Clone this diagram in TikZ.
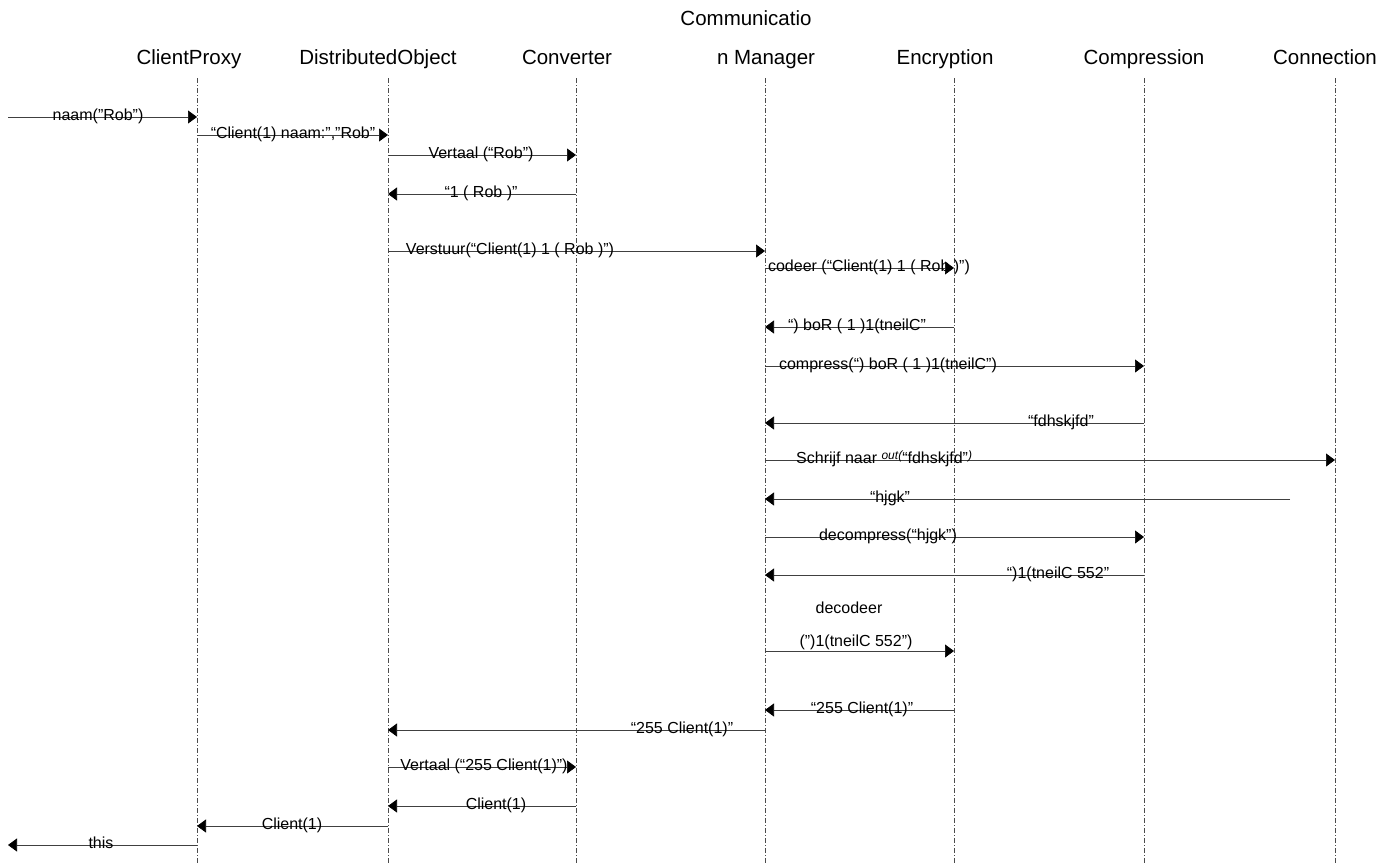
\documentclass[tikz,border=0pt]{standalone}
\usepackage{fontspec}
\setmainfont{Liberation Sans}
\usetikzlibrary{arrows.meta}
\begin{document}
\begin{tikzpicture}[x=1pt,y=-1pt,
  head/.style={anchor=base,inner sep=0pt,font=\fontsize{20.5}{24}\selectfont},
  lbl/.style={anchor=base,inner sep=0pt,font=\fontsize{16}{19}\selectfont},
  life/.style={black!70,line width=0.5pt,dash pattern=on 5pt off 2pt on 1pt off 2pt},
  msg/.style={black!75,line width=0.7pt,-{Triangle[length=9pt,width=13pt,black]}}]
\useasboundingbox (0,0) rectangle (1395,863);
\fill[white] (0,0) rectangle (1395,863);
% headers
\node[head] (hcp) at (189,64) {ClientProxy};
\node[head] (hdo) at (378,64) {DistributedObject};
\node[head] (hcv) at (567,64) {Converter};
\node[head] (hcm1) at (746,25) {Communicatio};
\node[head] (hcm) at (766,64) {n Manager};
\node[head] (hen) at (945,64) {Encryption};
\node[head] (hco) at (1144,64) {Compression};
\node[head] (hcn) at (1325,64) {Connection};
% lifelines
\coordinate (cp) at (197,78); \coordinate (cpB) at (197,863);
\coordinate (do) at (388,78); \coordinate (doB) at (388,863);
\coordinate (cv) at (576,78); \coordinate (cvB) at (576,863);
\coordinate (cm) at (765,78); \coordinate (cmB) at (765,863);
\coordinate (en) at (954,78); \coordinate (enB) at (954,863);
\coordinate (co) at (1144,78); \coordinate (coB) at (1144,863);
\coordinate (cn) at (1335,78); \coordinate (cnB) at (1335,863);
\coordinate (ext) at (8,78);
\coordinate (cnx) at (1290,78);
\foreach \a/\b in {cp/cpB,do/doB,cv/cvB,cm/cmB,en/enB,co/coB,cn/cnB}
  \draw[life] (\a) -- (\b);
% messages
\draw[msg] (ext |- 0,117) -- (cp |- 0,117);
\node[lbl] (m1) at (98,120) {naam("Rob")};
\draw[msg] (cp |- 0,135) -- (do |- 0,135);
\node[lbl] (m2) at (293,138) {“Client(1) naam:","Rob"};
\draw[msg] (do |- 0,155) -- (cv |- 0,155);
\node[lbl] (m3) at (481,158) {Vertaal (“Rob”)};
\draw[msg] (cv |- 0,194) -- (do |- 0,194);
\node[lbl] (m4) at (481,197) {“1 ( Rob )”};
\draw[msg] (do |- 0,251) -- (cm |- 0,251);
\node[lbl] (m5) at (510,254) {Verstuur(“Client(1) 1 ( Rob )”)};
\draw[msg] (cm |- 0,268) -- (en |- 0,268);
\node[lbl] (m6) at (869,271) {codeer (“Client(1) 1 ( Rob )”)};
\draw[msg] (en |- 0,327) -- (cm |- 0,327);
\node[lbl] (m7) at (857,330) {“) boR ( 1 )1(tneilC”};
\draw[msg] (cm |- 0,366) -- (co |- 0,366);
\node[lbl] (m8) at (888,369) {compress(“) boR ( 1 )1(tneilC”)};
\draw[msg] (co |- 0,423) -- (cm |- 0,423);
\node[lbl] (m9) at (1061,426) {“fdhskjfd”};
\draw[msg] (cm |- 0,460) -- (cn |- 0,460);
\node[lbl,anchor=base west] (m10) at (796,463) {Schrijf naar \raisebox{4pt}{\fontsize{12}{12}\selectfont\itshape out(}“fdhskjfd”\raisebox{4pt}{\fontsize{12}{12}\selectfont\itshape )}};
\draw[msg] (cnx |- 0,499) -- (cm |- 0,499);
\node[lbl] (m11) at (890,502) {“hjgk”};
\draw[msg] (cm |- 0,537) -- (co |- 0,537);
\node[lbl] (m12) at (888,540) {decompress(“hjgk”)};
\draw[msg] (co |- 0,575) -- (cm |- 0,575);
\node[lbl] (m13) at (1058,578) {“)1(tneilC 552”};
\node[lbl] (m14a) at (849,613) {decodeer};
\node[lbl] (m14b) at (856,646) {(”)1(tneilC 552”)};
\draw[msg] (cm |- 0,651) -- (en |- 0,651);
\draw[msg] (en |- 0,710) -- (cm |- 0,710);
\node[lbl] (m15) at (862,713) {“255 Client(1)”};
\draw[msg] (cm |- 0,730) -- (do |- 0,730);
\node[lbl] (m16) at (682,733) {“255 Client(1)”};
\draw[msg] (do |- 0,767) -- (cv |- 0,767);
\node[lbl] (m17) at (484,770) {Vertaal (“255 Client(1)”)};
\draw[msg] (cv |- 0,806) -- (do |- 0,806);
\node[lbl] (m18) at (496,809) {Client(1)};
\draw[msg] (do |- 0,826) -- (cp |- 0,826);
\node[lbl] (m19) at (292,829) {Client(1)};
\draw[msg] (cp |- 0,845) -- (ext |- 0,845);
\node[lbl] (m20) at (101,848) {this};
\end{tikzpicture}
\end{document}
